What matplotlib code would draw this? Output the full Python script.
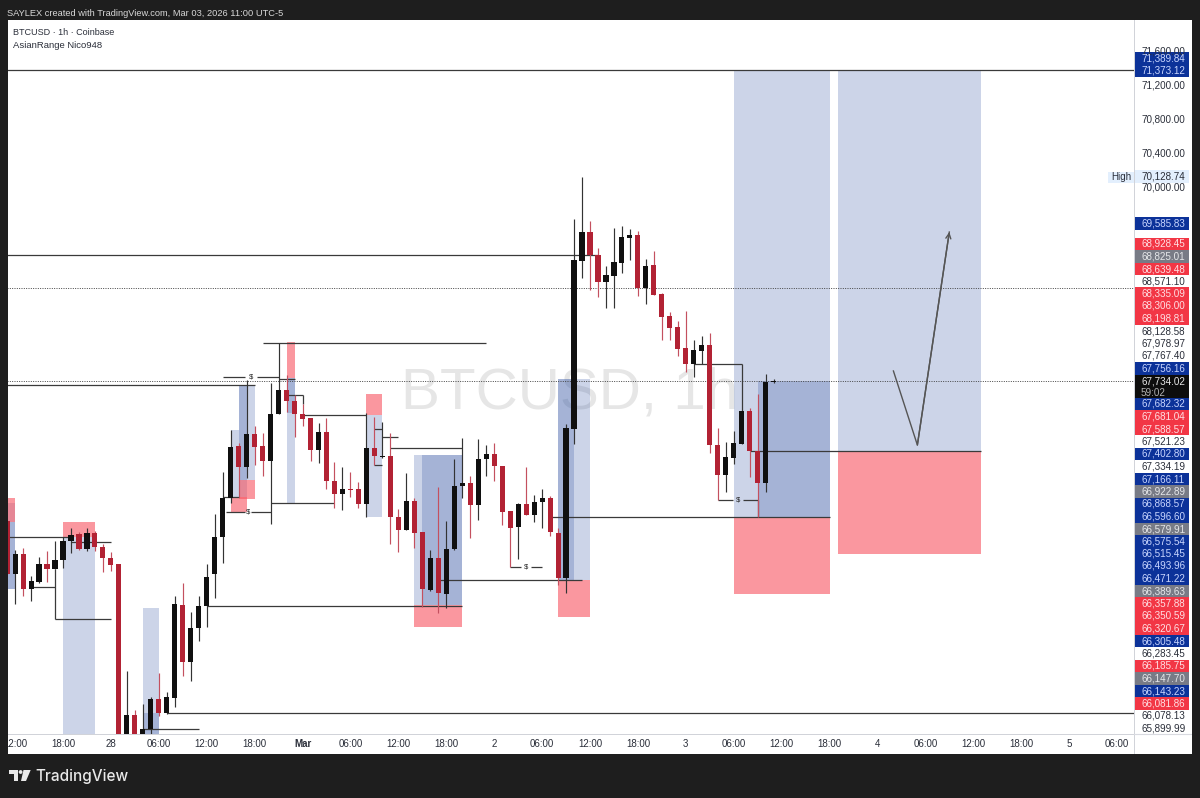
import numpy as np
import matplotlib
matplotlib.use("Agg")
import matplotlib.pyplot as plt
from matplotlib.patches import Rectangle, Polygon

plt.rcParams["font.family"] = ["Liberation Sans", "DejaVu Sans"]

# bars: hours since Feb 27 18:00
first_hour = -7
opens = [66098, 65473, 65711, 65301, 65387, 65590, 65536, 65637, 65860, 65942, 65770, 65957, 65797, 65668, 65590, 63500,
         63826, 63560, 63662, 64017, 63846, 64025, 65114, 64443, 64849, 65098, 65473, 65914, 66363, 66972, 66730, 67120,
         66972, 66800, 67350, 67628, 67507, 67354, 67300, 66925, 67140, 66570, 66410, 66472, 66468, 66297, 66952, 66847,
         66855, 66148, 65988, 66332, 65973, 65293, 65664, 65247, 65770, 66503, 66542, 66281, 66823, 66878, 66742, 66211,
         66023, 66297, 66168, 66320, 66363, 65961, 65426, 67174, 69145, 69481, 69212, 68896, 68966, 69114, 69411, 69446,
         68825, 69091, 68751, 68497, 68373, 68123, 67932, 68088, 68162, 66991, 66632, 66839, 67003, 67381, 66921, 66546,
         67725]
highs = [66098, 65758, 65777, 65454, 65672, 65746, 65867, 65914, 66016, 65969, 66016, 65977, 65824, 65731, 65590, 64341,
         63884, 63955, 64041, 64314, 64091, 65223, 65375, 65028, 65223, 65590, 66176, 66667, 67163, 67007, 67749, 67214,
         67132, 67710, 68186, 67807, 67573, 67468, 67300, 67241, 67300, 66785, 66734, 66671, 66550, 67358, 67319, 67253,
         67124, 66234, 66663, 66363, 65973, 65758, 66492, 66101, 66827, 67065, 66620, 67062, 66984, 67007, 66742, 66211,
         66312, 66734, 66398, 66476, 66394, 66012, 67233, 69629, 70121, 69610, 69294, 69083, 69524, 69551, 69512, 69497,
         69165, 69255, 68763, 68548, 68443, 68560, 68216, 68263, 68295, 67182, 67026, 67151, 67381, 67420, 67584, 67818,
         67764]
lows = [65473, 65122, 65223, 65165, 65368, 65387, 65536, 65551, 65727, 65758, 65750, 65750, 65497, 65508, 63400, 63300,
        63450, 63500, 63592, 63814, 63838, 63924, 64287, 64228, 64692, 64853, 65192, 65610, 66304, 66382, 66597, 66753,
        66628, 66059, 67350, 67378, 67085, 67210, 66796, 66781, 66468, 66254, 66222, 66382, 66246, 66148, 66753, 66831,
        65828, 65731, 65988, 65777, 65094, 65278, 65016, 65083, 65758, 66363, 65895, 66109, 66628, 66570, 66051, 65555,
        65657, 66168, 66090, 66012, 65926, 65344, 65258, 66995, 68939, 68802, 68724, 68587, 68595, 68997, 69153, 68732,
        68638, 68743, 68216, 68216, 68029, 67838, 67779, 67932, 66897, 66343, 66433, 66761, 67003, 66608, 66148, 66441,
        67709]
closes = [65473, 65711, 65301, 65391, 65598, 65536, 65641, 65863, 65934, 65770, 65957, 65793, 65664, 65582, 63500, 63826,
          63550, 63662, 64017, 63846, 64033, 65126, 64443, 64849, 65098, 65442, 65914, 66363, 66964, 66730, 67120, 66964,
          66800, 67350, 67628, 67507, 67350, 67296, 66925, 67140, 66566, 66410, 66468, 66461, 66297, 66948, 66859, 66859,
          66144, 65988, 66328, 65961, 65297, 65664, 65255, 65770, 66511, 66542, 66281, 66827, 66878, 66738, 66207, 66016,
          66301, 66168, 66320, 66363, 65965, 65426, 67183, 69153, 69481, 69208, 68896, 68974, 69126, 69419, 69446, 68825,
          69083, 68743, 68490, 68361, 68111, 67932, 68095, 68162, 66987, 66640, 66843, 67010, 67381, 66917, 66546, 67725,
          67734]

# zones drawn on the chart: start hour, end hour, top price, bottom price
blue_h0 = [-8, -8, 0, 10, 10, 21, 22, 22, 28, 28, 38, 44, 45, 62, 62, 84, 87, 97]
blue_h1 = [-6, -6, 4, 12, 12, 23, 24, 23, 29, 29, 40, 50, 50, 66, 64, 96, 96, 115]
blue_top = [66304, 66082, 65914, 65075, 63846, 67163, 67690, 67690, 67768, 67768, 67339, 66870, 66870, 67756, 67756, 71373, 67738, 71373]
blue_bot = [65297, 65297, 63500, 63500, 63500, 66382, 66578, 67163, 66312, 67358, 66144, 65110, 65110, 65406, 65406, 66147, 66147, 66917]

pink_h0 = [-8, 0, 21, 22, 28, 38, 44, 62, 84, 97]
pink_h1 = [-6, 4, 23, 24, 29, 40, 50, 66, 96, 115]
pink_top = [66363, 66090, 66382, 66578, 68197, 67585, 65110, 65406, 66147, 66917]
pink_bot = [66082, 65914, 66199, 66351, 67776, 67339, 64860, 64977, 65242, 65711]

# level lines
line_h0 = [-7, -7, 13, -7, -7, 1, -4, -1, 10, 18, 26, 20.4, 23.6, 20, 24.25, 20, 25, 27, 28, 30, 39, 40, 39, 41, 47, 56, 58.6, 61, 79, 82, 85.2, 86]
line_h1 = [134.2, 67, 134.2, 24, 1, 6, -1, 6, 17, 50, 34, 22.8, 26, 22.8, 27, 22, 53, 29, 30, 38, 40, 42, 40, 50, 65, 57.3, 60, 96, 85, 83.9, 87, 115]
line_p = [71373, 69208, 63846, 67690, 65906, 65856, 65329, 64946, 63662, 65102, 66304, 66199, 66199, 67780, 67780, 66382, 68186, 67764,
          67569, 67335, 67171, 67085, 66757, 66948, 65407, 65555, 65555, 66147, 67939, 66343, 66343, 66917]
vline_h = [-1, 85, 87, 30]
vline_top = [65536, 67939, 66343, 67569]
vline_bot = [64946, 67381, 66147, 67468]
dotted_p = [68826, 67734]

dollar_h = [23.2, 23.5, 58, 84.5]
dollar_p = [66199, 67780, 65555, 66343]

arrow_h = [104, 107, 111]
arrow_p = [67854, 66987, 69481]

time_pos = [-6, 0, 6, 12, 18, 24, 30, 36, 42, 48, 54, 60, 66, 72, 78, 84, 90, 96, 102, 108, 114, 120, 126, 132]
time_labels = ["12:00", "18:00", "28", "06:00", "12:00", "18:00", "Mar", "06:00", "12:00", "18:00", "2", "06:00",
               "12:00", "18:00", "3", "06:00", "12:00", "18:00", "4", "06:00", "12:00", "18:00", "5", "06:00"]

# right hand price scale, labels stack so they keep their own row
tag_text = ["71,600.00", "71,389.84", "71,373.12", "71,200.00", "70,800.00", "70,400.00", "70,128.74", "70,000.00",
            "69,585.83", "68,928.45", "68,825.01", "68,639.48", "68,571.10", "68,335.09", "68,306.00", "68,198.81",
            "68,128.58", "67,978.97", "67,767.40", "67,756.16", "67,734.02", "59:02", "67,682.32", "67,681.04",
            "67,588.57", "67,521.23", "67,402.80", "67,334.19", "67,166.11", "66,922.89", "66,868.57", "66,596.60",
            "66,579.91", "66,575.54", "66,515.45", "66,493.96", "66,471.22", "66,389.63", "66,357.88", "66,350.59",
            "66,320.67", "66,305.48", "66,283.45", "66,185.75", "66,147.70", "66,143.23", "66,081.86", "66,078.13",
            "65,899.99"]
tag_kind = ["p", "b", "b", "p", "p", "p", "h", "p", "b", "r", "g", "r", "p", "r", "r", "r", "p", "p", "p", "b", "k", "k",
            "b", "r", "r", "p", "b", "p", "b", "g", "b", "b", "g", "b", "b", "b", "b", "g", "r", "r", "r", "b", "p", "r",
            "g", "b", "r", "p", "p"]
tag_row = [51.5, 58.3, 70.7, 85.7, 119.3, 153.3, 176.7, 187.7, 223.3, 244, 256.3, 269, 281, 293.3, 306, 318.7, 331, 343.3,
           356, 368.7, 381, 392.5, 404, 416.3, 429, 441.3, 454, 466.3, 479, 491.3, 504, 516.3, 529, 541.3, 553.7, 566,
           578.7, 591.3, 603.7, 616, 628.7, 641, 653.7, 666, 678.7, 691, 703.7, 716, 728.3]

DARK = "#1e1e1e"
tag_bg = {"b": "#0c3299", "r": "#f23645", "g": "#787b86", "k": "#0d0d0d", "h": "#e3effd"}
tag_fg = {"p": "#2a2e39", "b": "#c9d6ff", "r": "#ffdfe3", "g": "#e6e7ea", "k": "#e8e8e8", "h": "#2a2e39"}

W, H = 1200, 798
fig = plt.figure(figsize=(W / 100, H / 100), dpi=100, facecolor=DARK)


def px_axes(x0, y0, x1, y1, **kw):
    return fig.add_axes([x0 / W, 1 - y1 / H, (x1 - x0) / W, (y1 - y0) / H], **kw)


# page chrome in pixel coordinates
chrome = px_axes(0, 0, W, H)
chrome.set_xlim(0, W)
chrome.set_ylim(H, 0)
chrome.axis("off")
chrome.text(7, 13, "SAYLEX created with TradingView.com, Mar 03, 2026 11:00 UTC-5", color="#d8d8d8",
            fontsize=6.7, va="center", ha="left")
chrome.text(35.5, 776.5, "TradingView", color="#e8e8e8", fontsize=11, va="center", ha="left",
            family=["Inter", "DejaVu Sans"], fontweight="medium")
chrome.add_patch(Polygon([(8.7, 770), (18, 770), (18, 781), (14, 781), (14, 774), (8.7, 774)], color="#e8e8e8", lw=0))
chrome.add_patch(Polygon([(23.5, 770), (30.7, 770), (26, 781), (21, 781)], color="#e8e8e8", lw=0))
chrome.add_patch(plt.Circle((20.6, 772), 1.9, color="#e8e8e8", lw=0))

# main pane
ax = px_axes(8, 20, 1134, 734, facecolor="white")
ax.set_xlim(-6.888, 134.13)
ax.set_ylim(63603, 71964)
ax.set_xticks([])
ax.set_yticks([])
for s in ax.spines.values():
    s.set_visible(False)

ax.text(63.4, 67420, "BTCUSD, 1h", color="#e6e6e6", fontsize=42, ha="center", va="baseline", zorder=0)

for a, b, t, bt in zip(blue_h0, blue_h1, blue_top, blue_bot):
    ax.add_patch(Rectangle((a, bt), b - a, t - bt, fc="#2a4ea0", alpha=0.24, lw=0, zorder=1))
for a, b, t, bt in zip(pink_h0, pink_h1, pink_top, pink_bot):
    ax.add_patch(Rectangle((a, bt), b - a, t - bt, fc="#f7525f", alpha=0.6, lw=0, zorder=1.1))

ax.hlines(dotted_p, -7, 134.2, colors="#444444", lw=0.7, linestyles=(0, (1, 1.4)), zorder=1.5)
ax.hlines(line_p, line_h0, line_h1, colors="#3a3a3a", lw=0.9, zorder=2)
ax.vlines(vline_h, vline_bot, vline_top, colors="#3a3a3a", lw=0.9, zorder=2)

hours = np.arange(first_hour, first_hour + len(opens))
o, h, l, c = map(np.array, (opens, highs, lows, closes))
up = c >= o
ax.vlines(hours[up], l[up], h[up], colors="#333333", lw=0.85, zorder=3)
ax.vlines(hours[~up], l[~up], h[~up], colors="#c4505f", lw=0.85, zorder=3)
ax.bar(hours[up], (c - o)[up], bottom=o[up], width=0.64, color="#101010", lw=0, zorder=4)
ax.bar(hours[~up], (o - c)[~up], bottom=c[~up], width=0.64, color="#b22234", lw=0, zorder=4)

for a, p in zip(dollar_h, dollar_p):
    ax.text(a, p, "$", fontsize=5.5, ha="center", va="center", color="#222222", zorder=5)

ax.plot(arrow_h, arrow_p, color="#555555", lw=1, zorder=5)
ax.annotate("", xy=(arrow_h[-1], arrow_p[-1]), xytext=(arrow_h[-2], arrow_p[-2]),
            arrowprops=dict(arrowstyle="->", color="#555555", lw=1, mutation_scale=9, shrinkA=0, shrinkB=0), zorder=5)

# time axis
ax_t = px_axes(8, 734, 1134, 754, facecolor="white")
ax_t.set_xlim(ax.get_xlim())
ax_t.set_ylim(0, 1)
ax_t.set_xticks([])
ax_t.set_yticks([])
for s in ax_t.spines.values():
    s.set_visible(False)
ax_t.axhline(1, color="#c8cbd2", lw=1.2)
for pos, lab in zip(time_pos, time_labels):
    ax_t.text(pos, 0.48, lab, ha="center", va="center", fontsize=7, color="#2a2e39", clip_on=True,
              fontweight="bold" if lab == "Mar" else "normal")

# price scale
ax_r = px_axes(1134, 20, 1192, 754, facecolor="white")
ax_r.set_xlim(1134, 1192)
ax_r.set_ylim(754, 20)
ax_r.set_xticks([])
ax_r.set_yticks([])
for s in ax_r.spines.values():
    s.set_visible(False)
ax_r.axvline(1134.3, color="#c8cbd2", lw=1.2)
ax_r.axhline(734, color="#d8dae0", lw=0.8)

for txt, kind, row in zip(tag_text, tag_kind, tag_row):
    if kind in tag_bg:
        ax_r.add_patch(Rectangle((1134.6, row - 6.3), 54, 12.6, fc=tag_bg[kind], lw=0, zorder=2))
    ax_r.text(1141, row, txt, fontsize=7.1, ha="left", va="center", color=tag_fg[kind], zorder=3,
              alpha=0.75 if txt == "59:02" else 1)

# "High" tag hangs into the pane
ax.add_patch(Rectangle((130.9, 70052), 3.25, 135, fc="#e3effd", lw=0, zorder=6))
ax.text(132.5, 70125, "High", fontsize=7.1, color="#2a2e39", ha="center", va="center", zorder=7)

chrome2 = px_axes(8, 20, 1134, 734)
chrome2.axis("off")
chrome2.set_xlim(8, 1134)
chrome2.set_ylim(734, 20)
chrome2.text(13, 32, "BTCUSD · 1h · Coinbase", fontsize=6.5, color="#2a2e39", va="center", ha="left")
chrome2.text(13, 45, "AsianRange Nico948", fontsize=6.8, color="#2a2e39", va="center", ha="left")

fig.savefig("out.png", dpi=100, facecolor=DARK)
plt.close(fig)
